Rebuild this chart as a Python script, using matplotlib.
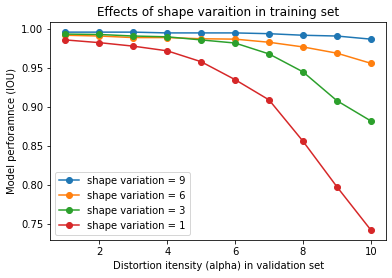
import numpy as np
import matplotlib
matplotlib.use('Agg')
import matplotlib.pyplot as plt

alpha = [1, 2, 3, 4, 5, 6, 7, 8, 9, 10]
iou_sv9 = [0.996, 0.996, 0.996, 0.995, 0.995, 0.995, 0.994, 0.992, 0.991, 0.987]
iou_sv6 = [0.992, 0.991, 0.989, 0.989, 0.9875, 0.987, 0.983, 0.977, 0.969, 0.956]
iou_sv3 = [0.9935, 0.993, 0.991, 0.990, 0.986, 0.982, 0.968, 0.945, 0.908, 0.882]
iou_sv1 = [0.986, 0.9825, 0.978, 0.972, 0.958, 0.935, 0.909, 0.856, 0.7975, 0.742]

fig = plt.figure(figsize=(392/72, 278/72), dpi=72)
ax = fig.add_subplot()
fig.subplots_adjust(left=0.128, right=0.985, bottom=0.137, top=0.92)
ax.plot(alpha, iou_sv9, marker='o', label='shape variation = 9')
ax.plot(alpha, iou_sv6, marker='o', label='shape variation = 6')
ax.plot(alpha, iou_sv3, marker='o', label='shape variation = 3')
ax.plot(alpha, iou_sv1, marker='o', label='shape variation = 1')
ax.legend(loc='lower left')
ax.set_title('Effects of shape varaition in training set')
ax.set_xlabel('Distortion itensity (alpha) in validation set')
ax.set_ylabel('Model perforamnce (IOU)')
fig.savefig('out.png', dpi=72)
